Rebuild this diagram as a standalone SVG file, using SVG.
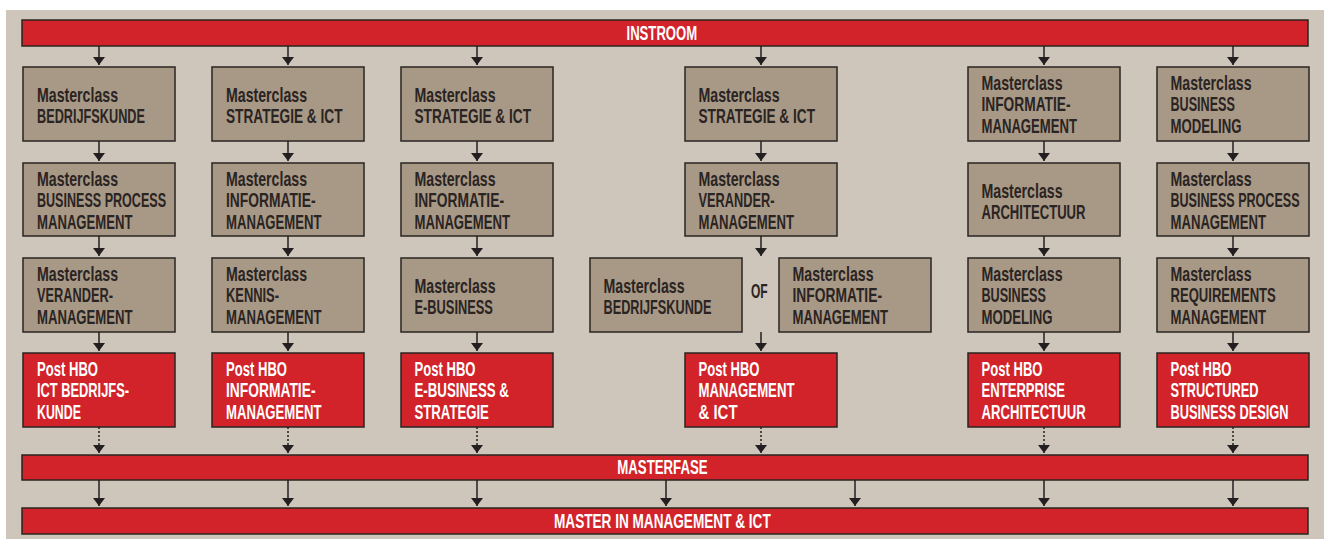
<svg xmlns="http://www.w3.org/2000/svg" width="1330" height="541" viewBox="0 0 1330 541">
<defs>
<marker id="ah" markerUnits="userSpaceOnUse" viewBox="0 0 8 12" refX="8" refY="6" markerWidth="8" markerHeight="12" orient="auto">
<path d="M0,0 L8,6 L0,12 z" fill="#231f20"/>
</marker>
<style>
.bg{fill:#cec5bb}
.mc{fill:#a89886;stroke:#2a2422;stroke-width:1.5}
.hbo{fill:#d2232a;stroke:#2a2422;stroke-width:1.5}
.t{font-family:"Liberation Sans",Arial,sans-serif;font-size:21px;font-weight:bold;fill:#2a2422}
.w{fill:#ffffff}
.bt{font-family:"Liberation Sans",Arial,sans-serif;font-size:19.5px;font-weight:bold;fill:#ffffff}
.ln{stroke:#231f20;stroke-width:1.5;fill:none;marker-end:url(#ah)}
.dot{stroke-dasharray:2 2}
</style>
</defs>
<rect class="bg" x="6" y="10" width="1318" height="529"/>

<g id="instroom"><rect class="hbo" x="22" y="20" width="1286" height="26"/><text class="bt" x="626.5" y="40" textLength="70.7" lengthAdjust="spacingAndGlyphs">INSTROOM</text></g>
<g id="masterfase"><rect class="hbo" x="22" y="455" width="1286" height="25"/><text class="bt" x="617.3" y="474" textLength="90.3" lengthAdjust="spacingAndGlyphs">MASTERFASE</text></g>
<g id="master"><rect class="hbo" x="22" y="508" width="1286" height="26"/><text class="bt" x="554" y="527.5" textLength="216.7" lengthAdjust="spacingAndGlyphs">MASTER IN MANAGEMENT &amp; ICT</text></g>

<!-- Column 1 -->
<g id="c1r1"><rect class="mc" x="23" y="67" width="152" height="74"/>
<text class="t" x="37" y="102" textLength="81" lengthAdjust="spacingAndGlyphs">Masterclass</text>
<text class="t" x="37" y="123" textLength="108" lengthAdjust="spacingAndGlyphs">BEDRIJFSKUNDE</text></g>
<g id="c1r2"><rect class="mc" x="23" y="163" width="152" height="73"/>
<text class="t" x="37" y="185.5" textLength="81" lengthAdjust="spacingAndGlyphs">Masterclass</text>
<text class="t" x="37" y="207" textLength="129" lengthAdjust="spacingAndGlyphs">BUSINESS PROCESS</text>
<text class="t" x="37" y="228.5" textLength="95.5" lengthAdjust="spacingAndGlyphs">MANAGEMENT</text></g>
<g id="c1r3"><rect class="mc" x="23" y="258" width="152" height="74"/>
<text class="t" x="37" y="280.5" textLength="81" lengthAdjust="spacingAndGlyphs">Masterclass</text>
<text class="t" x="37" y="302" textLength="76" lengthAdjust="spacingAndGlyphs">VERANDER-</text>
<text class="t" x="37" y="323.5" textLength="95.5" lengthAdjust="spacingAndGlyphs">MANAGEMENT</text></g>
<g id="c1r4"><rect class="hbo" x="23" y="353" width="152" height="74"/>
<text class="t w" x="37" y="375.5" textLength="61" lengthAdjust="spacingAndGlyphs">Post HBO</text>
<text class="t w" x="37" y="397" textLength="92" lengthAdjust="spacingAndGlyphs">ICT BEDRIJFS-</text>
<text class="t w" x="37" y="418.5" textLength="44" lengthAdjust="spacingAndGlyphs">KUNDE</text></g>

<!-- Column 2 -->
<g id="c2r1"><rect class="mc" x="212" y="67" width="152" height="74"/>
<text class="t" x="226" y="102" textLength="81" lengthAdjust="spacingAndGlyphs">Masterclass</text>
<text class="t" x="226" y="123" textLength="116.5" lengthAdjust="spacingAndGlyphs">STRATEGIE &amp; ICT</text></g>
<g id="c2r2"><rect class="mc" x="212" y="163" width="152" height="73"/>
<text class="t" x="226" y="185.5" textLength="81" lengthAdjust="spacingAndGlyphs">Masterclass</text>
<text class="t" x="226" y="207" textLength="89.5" lengthAdjust="spacingAndGlyphs">INFORMATIE-</text>
<text class="t" x="226" y="228.5" textLength="95.5" lengthAdjust="spacingAndGlyphs">MANAGEMENT</text></g>
<g id="c2r3"><rect class="mc" x="212" y="258" width="152" height="74"/>
<text class="t" x="226" y="280.5" textLength="81" lengthAdjust="spacingAndGlyphs">Masterclass</text>
<text class="t" x="226" y="302" textLength="53" lengthAdjust="spacingAndGlyphs">KENNIS-</text>
<text class="t" x="226" y="323.5" textLength="95.5" lengthAdjust="spacingAndGlyphs">MANAGEMENT</text></g>
<g id="c2r4"><rect class="hbo" x="212" y="353" width="152" height="74"/>
<text class="t w" x="226" y="375.5" textLength="61" lengthAdjust="spacingAndGlyphs">Post HBO</text>
<text class="t w" x="226" y="397" textLength="89.5" lengthAdjust="spacingAndGlyphs">INFORMATIE-</text>
<text class="t w" x="226" y="418.5" textLength="95.5" lengthAdjust="spacingAndGlyphs">MANAGEMENT</text></g>

<!-- Column 3 -->
<g id="c3r1"><rect class="mc" x="401" y="67" width="152" height="74"/>
<text class="t" x="414.5" y="102" textLength="81" lengthAdjust="spacingAndGlyphs">Masterclass</text>
<text class="t" x="414.5" y="123" textLength="116.5" lengthAdjust="spacingAndGlyphs">STRATEGIE &amp; ICT</text></g>
<g id="c3r2"><rect class="mc" x="401" y="163" width="152" height="73"/>
<text class="t" x="414.5" y="185.5" textLength="81" lengthAdjust="spacingAndGlyphs">Masterclass</text>
<text class="t" x="414.5" y="207" textLength="89.5" lengthAdjust="spacingAndGlyphs">INFORMATIE-</text>
<text class="t" x="414.5" y="228.5" textLength="95.5" lengthAdjust="spacingAndGlyphs">MANAGEMENT</text></g>
<g id="c3r3"><rect class="mc" x="401" y="258" width="152" height="74"/>
<text class="t" x="414.5" y="293" textLength="81" lengthAdjust="spacingAndGlyphs">Masterclass</text>
<text class="t" x="414.5" y="314" textLength="78.4" lengthAdjust="spacingAndGlyphs">E-BUSINESS</text></g>
<g id="c3r4"><rect class="hbo" x="401" y="353" width="152" height="74"/>
<text class="t w" x="414.5" y="375.5" textLength="61" lengthAdjust="spacingAndGlyphs">Post HBO</text>
<text class="t w" x="414.5" y="397" textLength="94.4" lengthAdjust="spacingAndGlyphs">E-BUSINESS &amp;</text>
<text class="t w" x="414.5" y="418.5" textLength="74.4" lengthAdjust="spacingAndGlyphs">STRATEGIE</text></g>

<!-- Column 4 -->
<g id="c4r1"><rect class="mc" x="685" y="67" width="152" height="74"/>
<text class="t" x="698.5" y="102" textLength="81" lengthAdjust="spacingAndGlyphs">Masterclass</text>
<text class="t" x="698.5" y="123" textLength="116.5" lengthAdjust="spacingAndGlyphs">STRATEGIE &amp; ICT</text></g>
<g id="c4r2"><rect class="mc" x="685" y="163" width="152" height="73"/>
<text class="t" x="698.5" y="185.5" textLength="81" lengthAdjust="spacingAndGlyphs">Masterclass</text>
<text class="t" x="698.5" y="207" textLength="76" lengthAdjust="spacingAndGlyphs">VERANDER-</text>
<text class="t" x="698.5" y="228.5" textLength="95.5" lengthAdjust="spacingAndGlyphs">MANAGEMENT</text></g>
<g id="c4r3a"><rect class="mc" x="590" y="258" width="152" height="74"/>
<text class="t" x="603.5" y="293" textLength="81" lengthAdjust="spacingAndGlyphs">Masterclass</text>
<text class="t" x="603.5" y="314" textLength="108" lengthAdjust="spacingAndGlyphs">BEDRIJFSKUNDE</text></g>
<g id="of"><text class="t" x="751" y="298" textLength="16.7" lengthAdjust="spacingAndGlyphs">OF</text></g>
<g id="c4r3b"><rect class="mc" x="779" y="258" width="152" height="74"/>
<text class="t" x="792.5" y="280.5" textLength="81" lengthAdjust="spacingAndGlyphs">Masterclass</text>
<text class="t" x="792.5" y="302" textLength="89.5" lengthAdjust="spacingAndGlyphs">INFORMATIE-</text>
<text class="t" x="792.5" y="323.5" textLength="95.5" lengthAdjust="spacingAndGlyphs">MANAGEMENT</text></g>
<g id="c4r4"><rect class="hbo" x="685" y="353" width="152" height="74"/>
<text class="t w" x="698.5" y="375.5" textLength="61" lengthAdjust="spacingAndGlyphs">Post HBO</text>
<text class="t w" x="698.5" y="397" textLength="96" lengthAdjust="spacingAndGlyphs">MANAGEMENT</text>
<text class="t w" x="698.5" y="418.5" textLength="39" lengthAdjust="spacingAndGlyphs">&amp; ICT</text></g>

<!-- Column 5 -->
<g id="c5r1"><rect class="mc" x="968" y="67" width="152" height="74"/>
<text class="t" x="981.5" y="89.5" textLength="81" lengthAdjust="spacingAndGlyphs">Masterclass</text>
<text class="t" x="981.5" y="111" textLength="89" lengthAdjust="spacingAndGlyphs">INFORMATIE-</text>
<text class="t" x="981.5" y="132.5" textLength="95.5" lengthAdjust="spacingAndGlyphs">MANAGEMENT</text></g>
<g id="c5r2"><rect class="mc" x="968" y="163" width="152" height="73"/>
<text class="t" x="981.5" y="198" textLength="81" lengthAdjust="spacingAndGlyphs">Masterclass</text>
<text class="t" x="981.5" y="219" textLength="104" lengthAdjust="spacingAndGlyphs">ARCHITECTUUR</text></g>
<g id="c5r3"><rect class="mc" x="968" y="258" width="152" height="74"/>
<text class="t" x="981.5" y="280.5" textLength="81" lengthAdjust="spacingAndGlyphs">Masterclass</text>
<text class="t" x="981.5" y="302" textLength="64.4" lengthAdjust="spacingAndGlyphs">BUSINESS</text>
<text class="t" x="981.5" y="323.5" textLength="71" lengthAdjust="spacingAndGlyphs">MODELING</text></g>
<g id="c5r4"><rect class="hbo" x="968" y="353" width="152" height="74"/>
<text class="t w" x="981.5" y="375.5" textLength="61" lengthAdjust="spacingAndGlyphs">Post HBO</text>
<text class="t w" x="981.5" y="397" textLength="83.6" lengthAdjust="spacingAndGlyphs">ENTERPRISE</text>
<text class="t w" x="981.5" y="418.5" textLength="104.3" lengthAdjust="spacingAndGlyphs">ARCHITECTUUR</text></g>

<!-- Column 6 -->
<g id="c6r1"><rect class="mc" x="1157" y="67" width="152" height="74"/>
<text class="t" x="1170.5" y="89.5" textLength="81" lengthAdjust="spacingAndGlyphs">Masterclass</text>
<text class="t" x="1170.5" y="111" textLength="64.4" lengthAdjust="spacingAndGlyphs">BUSINESS</text>
<text class="t" x="1170.5" y="132.5" textLength="71" lengthAdjust="spacingAndGlyphs">MODELING</text></g>
<g id="c6r2"><rect class="mc" x="1157" y="163" width="152" height="73"/>
<text class="t" x="1170.5" y="185.5" textLength="81" lengthAdjust="spacingAndGlyphs">Masterclass</text>
<text class="t" x="1170.5" y="207" textLength="129" lengthAdjust="spacingAndGlyphs">BUSINESS PROCESS</text>
<text class="t" x="1170.5" y="228.5" textLength="95.5" lengthAdjust="spacingAndGlyphs">MANAGEMENT</text></g>
<g id="c6r3"><rect class="mc" x="1157" y="258" width="152" height="74"/>
<text class="t" x="1170.5" y="280.5" textLength="81" lengthAdjust="spacingAndGlyphs">Masterclass</text>
<text class="t" x="1170.5" y="302" textLength="105.3" lengthAdjust="spacingAndGlyphs">REQUIREMENTS</text>
<text class="t" x="1170.5" y="323.5" textLength="95.5" lengthAdjust="spacingAndGlyphs">MANAGEMENT</text></g>
<g id="c6r4"><rect class="hbo" x="1157" y="353" width="152" height="74"/>
<text class="t w" x="1170.5" y="375.5" textLength="61" lengthAdjust="spacingAndGlyphs">Post HBO</text>
<text class="t w" x="1170.5" y="397" textLength="88" lengthAdjust="spacingAndGlyphs">STRUCTURED</text>
<text class="t w" x="1170.5" y="418.5" textLength="118" lengthAdjust="spacingAndGlyphs">BUSINESS DESIGN</text></g>

<g id="connectors">
<path class="ln" d="M99,46V65"/><path class="ln" d="M288,46V65"/><path class="ln" d="M477,46V65"/><path class="ln" d="M761,46V65"/><path class="ln" d="M1044,46V65"/><path class="ln" d="M1233,46V65"/>
<path class="ln" d="M99,141V161"/><path class="ln" d="M288,141V161"/><path class="ln" d="M477,141V161"/><path class="ln" d="M761,141V161"/><path class="ln" d="M1044,141V161"/><path class="ln" d="M1233,141V161"/>
<path class="ln" d="M99,236V256"/><path class="ln" d="M288,236V256"/><path class="ln" d="M477,236V256"/><path class="ln" d="M761,236V256"/><path class="ln" d="M1044,236V256"/><path class="ln" d="M1233,236V256"/>
<path class="ln" d="M99,332V351"/><path class="ln" d="M288,332V351"/><path class="ln" d="M477,332V351"/><path class="ln" d="M761,332V351"/><path class="ln" d="M1044,332V351"/><path class="ln" d="M1233,332V351"/>
<path class="ln dot" d="M99,427V453"/><path class="ln dot" d="M288,427V453"/><path class="ln dot" d="M477,427V453"/><path class="ln dot" d="M761,427V453"/><path class="ln dot" d="M1044,427V453"/><path class="ln dot" d="M1233,427V453"/>
<path class="ln" d="M99,480V506"/><path class="ln" d="M288,480V506"/><path class="ln" d="M477,480V506"/><path class="ln" d="M666,480V506"/><path class="ln" d="M855,480V506"/><path class="ln" d="M1044,480V506"/><path class="ln" d="M1233,480V506"/>
</g>
</svg>
